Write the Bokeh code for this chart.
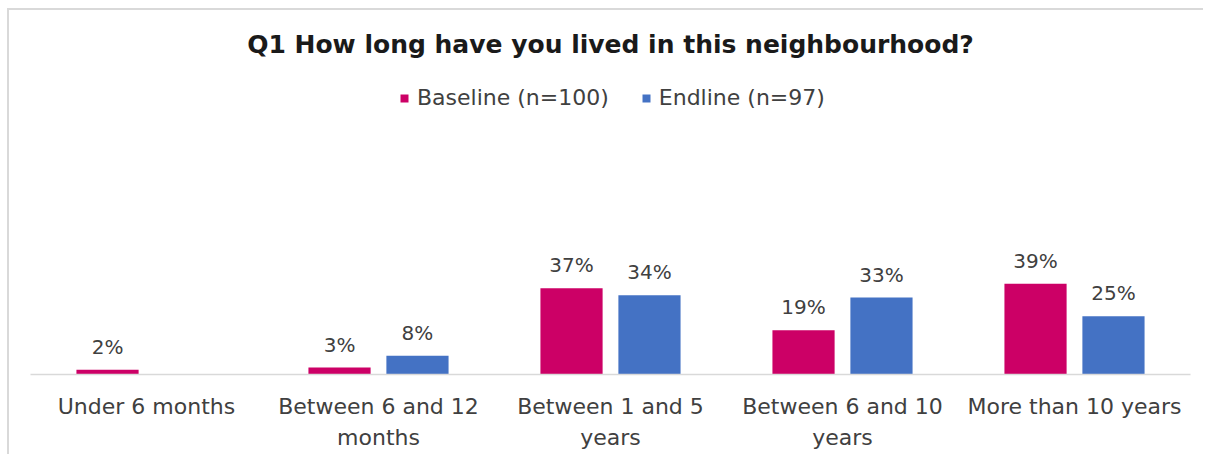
from bokeh.plotting import figure
from bokeh.models import ColumnDataSource, Legend, LegendItem, Label, Range1d, FactorRange
from bokeh.transform import dodge
from bokeh.core.properties import value
from bokeh.embed import file_html
from bokeh.resources import INLINE

title_text = "Q1 How long have you lived in this neighbourhood?"
categories = ["Under 6 months", "Between 6 and 12\nmonths", "Between 1 and 5\nyears",
              "Between 6 and 10\nyears", "More than 10 years"]
series_names = ["Baseline (n=100)", "Endline (n=97)"]
baseline = [2, 3, 37, 19, 39]
endline = [0, 8, 34, 33, 25]

MAGENTA = "#CC0066"
BLUE = "#4472C4"
FONT = "DejaVu Sans"

src = ColumnDataSource(dict(
    cat=categories,
    base=[v / 100 for v in baseline],
    end=[v / 100 for v in endline],
    base_lbl=[f"{v}%" if v > 0 else "" for v in baseline],
    end_lbl=[f"{v}%" if v > 0 else "" for v in endline],
))

FRAME_H = 364
PX_PER_UNIT = 233
# frame spans from figure top to the baseline
p = figure(width=1196, height=446, x_range=FactorRange(*categories),
           y_range=Range1d(0, FRAME_H / PX_PER_UNIT),
           output_backend="svg", toolbar_location=None,
           min_border_left=21, min_border_right=15, min_border_top=0, min_border_bottom=82)
p.margin = (8, 0, 0, 7)
p.styles = {"border-left": "2px solid #d9d9d9", "border-top": "2px solid #d9d9d9"}

bw = 0.268
off = 0.168
r1 = p.vbar(x=dodge("cat", -off, range=p.x_range), top="base", width=bw, source=src,
            fill_color=MAGENTA, line_color=None)
r2 = p.vbar(x=dodge("cat", off, range=p.x_range), top="end", width=bw, source=src,
            fill_color=BLUE, line_color=None)

for col, lbl, o in (("base", "base_lbl", -off), ("end", "end_lbl", off)):
    p.text(x=dodge("cat", o, range=p.x_range), y=col, text=lbl, source=src,
           text_align="center", text_baseline="bottom", y_offset=-11,
           text_font=value(FONT), text_font_size="20px", text_color="#404040")

p.yaxis.visible = False
p.xgrid.grid_line_color = None
p.ygrid.grid_line_color = None
p.outline_line_color = None
p.xaxis.axis_line_color = "#d9d9d9"
p.xaxis.axis_line_width = 1.5
p.xaxis.major_tick_line_color = None
p.xaxis.minor_tick_line_color = None
p.xaxis.major_tick_out = 0
p.xaxis.major_label_text_font = FONT
p.xaxis.major_label_text_font_size = "22px"
p.xaxis.major_label_text_color = "#404040"
p.xaxis.major_label_text_line_height = 1.25
p.xaxis.major_label_standoff = 19

legend = Legend(items=[LegendItem(label=series_names[0], renderers=[r1]),
                       LegendItem(label=series_names[1], renderers=[r2])],
                orientation="horizontal", location=(369, 264),
                label_text_font=FONT, label_text_font_size="22px", label_text_color="#404040",
                glyph_width=10, glyph_height=10, label_standoff=8, spacing=32,
                background_fill_alpha=0, border_line_color=None, padding=0, margin=0)
p.add_layout(legend, "center")

p.add_layout(Label(x=2.5, y=(FRAME_H - 34) / PX_PER_UNIT, text=title_text, text_align="center",
                   text_baseline="middle",
                   text_font=FONT, text_font_style="bold", text_font_size="25px",
                   text_color="#1a1a1a"))

open("out.html", "w").write(file_html(p, INLINE))
